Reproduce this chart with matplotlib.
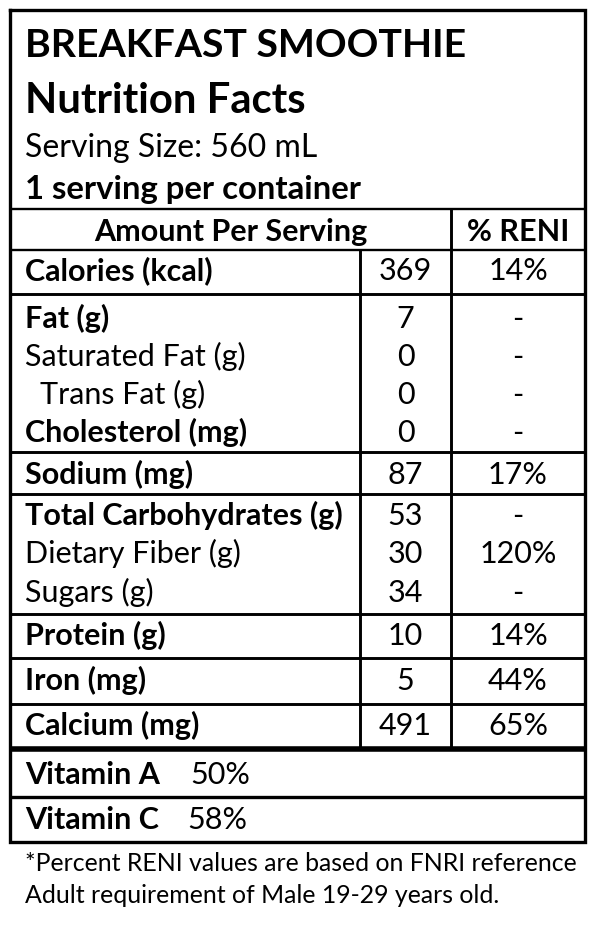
import matplotlib
matplotlib.use('Agg')
import matplotlib.pyplot as plt

plt.rcParams['font.family'] = ['Lato', 'DejaVu Sans']

title1 = 'BREAKFAST SMOOTHIE'
title2 = 'Nutrition Facts'
serving_size = 'Serving Size: 560 mL'
servings = '1 serving per container'

labels = ['Calories (kcal)', 'Fat (g)', 'Saturated Fat (g)', 'Trans Fat (g)',
          'Cholesterol (mg)', 'Sodium (mg)', 'Total Carbohydrates (g)',
          'Dietary Fiber (g)', 'Sugars (g)', 'Protein (g)', 'Iron (mg)', 'Calcium (mg)']
amounts = ['369', '7', '0', '0', '0', '87', '53', '30', '34', '10', '5', '491']
reni = ['14%', '-', '-', '-', '-', '17%', '-', '120%', '-', '14%', '44%', '65%']
bold = [True, True, False, False, True, True, True, False, False, True, True, True]
indent = [0, 0, 0, 15, 0, 0, 0, 0, 0, 0, 0, 0]

vitamins = ['Vitamin A', 'Vitamin C']
vitamin_pct = ['50%', '58%']

footnote = ['*Percent RENI values are based on FNRI reference',
            'Adult requirement of Male 19-29 years old.']

# layout in pixels
row_base = [280, 328, 366, 404, 442, 484, 525, 563, 602, 645, 690, 735]
vit_base = [784, 829]
vit_x = [190, 187]
L, R = 10, 585
C1, C2 = 360, 451

fig = plt.figure(figsize=(6, 9.29), dpi=100)
ax = fig.add_axes([0, 0, 1, 1])
ax.set_xlim(0, 600)
ax.set_ylim(929, 0)
ax.axis('off')


def size_for(s, width, weight):
    t = ax.text(0, 0, s, fontsize=20, fontweight=weight)
    w = t.get_window_extent(fig.canvas.get_renderer()).width
    t.remove()
    return 20 * width / w


fs_title = size_for(title1, 442, 'bold')
fs_title2 = size_for(title2, 281, 'bold')
fs_serv = size_for(serving_size, 293, 'normal')
fs_sub = size_for(servings, 336, 'bold')
fs_body = size_for('Calories (kcal)', 188, 'bold')
fs_foot = size_for(footnote[0], 553, 'normal')

ax.text(25, 57, title1, fontsize=fs_title, fontweight='bold', va='baseline')
ax.text(25, 113, title2, fontsize=fs_title2, fontweight='bold', va='baseline')
ax.text(25, 157, serving_size, fontsize=fs_serv, va='baseline')
ax.text(25, 199, servings, fontsize=fs_sub, fontweight='bold', va='baseline')

ax.text((L + C2) / 2, 241, 'Amount Per Serving', fontsize=fs_body, fontweight='bold',
        ha='center', va='baseline')
ax.text((C2 + R) / 2, 241, '% RENI', fontsize=fs_body, fontweight='bold',
        ha='center', va='baseline')

for i, lab in enumerate(labels):
    y = row_base[i]
    ax.text(25 + indent[i], y, lab, fontsize=fs_body,
            fontweight='bold' if bold[i] else 'normal', va='baseline')
    ax.text((C1 + C2) / 2, y, amounts[i], fontsize=fs_body, ha='center', va='baseline')
    ax.text((C2 + R) / 2, y, reni[i], fontsize=fs_body, ha='center', va='baseline')

for i, v in enumerate(vitamins):
    ax.text(25, vit_base[i], v, fontsize=fs_body, fontweight='bold', va='baseline')
    ax.text(vit_x[i], vit_base[i], vitamin_pct[i], fontsize=fs_body, va='baseline')

for i, line in enumerate(footnote):
    ax.text(25, [871, 903][i], line, fontsize=fs_foot, va='baseline')

# table lines
ax.hlines([210, 251], L, R, color='black', lw=1.7)
ax.hlines([295, 453, 495, 615, 659, 705], L, R, color='black', lw=2.1)
ax.hlines(750, L, R, color='black', lw=4.0)
ax.hlines(798, L, R, color='black', lw=2.4)
ax.vlines(C2, 210, 750, color='black', lw=2.1)
ax.vlines(C1, 251, 750, color='black', lw=2.1)
ax.plot([L, R, R, L, L], [11, 11, 843, 843, 11], color='black', lw=2.4,
        solid_joinstyle='miter')

fig.savefig('out.png', dpi=100, facecolor='white')
